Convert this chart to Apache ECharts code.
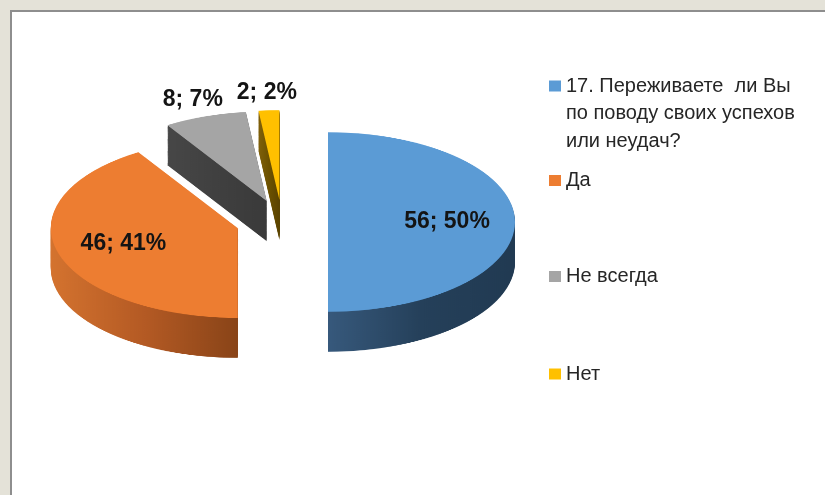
<!DOCTYPE html>
<html>
<head>
<meta charset="utf-8">
<script src="https://cdn.jsdelivr.net/npm/echarts@6/dist/echarts.min.js"></script>
<style>
  html, body { margin: 0; padding: 0; width: 825px; height: 495px; overflow: hidden; background: #e4e2d8; }
  #sheet { position: absolute; left: 10px; top: 10px; width: 815px; height: 485px; background: #ffffff;
           border-top: 2px solid #8e8e8e; border-left: 2px solid #8e8e8e; }
  #solid { position: absolute; left: 0; top: 0; width: 825px; transform-origin: 0 0; }
  #front { position: absolute; left: 0; top: 0; width: 825px; height: 495px; }
</style>
</head>
<body>
<div id="sheet"></div>
<div id="solid"></div>
<div id="front"></div>
<script>
// Survey answers
const categories = ['17. Переживаете  ли Вы\nпо поводу своих успехов\nили неудач?', 'Да', 'Не всегда', 'Нет'];
const counts = [56, 46, 8, 2];

// Slice colours: top face and the darker extruded side (left -> right shade)
const topColors = ['#5b9bd5', '#ed7d31', '#a5a5a5', '#ffc000'];
const sideColors = [
  ['#37597c', '#25405a', '#213a52'],
  ['#d4732f', '#b45a24', '#894418'],
  ['#474747', '#404040', '#3a3a3a'],
  ['#80600a', '#6c5100', '#5a4300']
];

// Geometry of the tilted pie (screen pixels)
const CX = 282, CY = 222, R = 187, TILT = 0.48, DEPTH = 40, EXPLODE = 46;
const FONT = "'Liberation Sans', Arial, sans-serif";

const total = counts.reduce((a, b) => a + b, 0);

// ---- solid pie: drawn flat, then squashed vertically by CSS to look tilted ----
const solidEl = document.getElementById('solid');
solidEl.style.height = (495 / TILT) + 'px';
solidEl.style.transform = 'scaleY(' + TILT + ')';

function gradient(stops) {
  return new echarts.graphic.LinearGradient(0, 0, 1, 0,
    stops.map((c, k) => ({ offset: k / (stops.length - 1), color: c })));
}

function pieLayer(screenY, colorOf) {
  return {
    type: 'pie',
    center: [CX, screenY / TILT],
    radius: R,
    startAngle: 90,
    clockwise: true,
    selectedMode: 'multiple',
    selectedOffset: EXPLODE,
    silent: true,
    animation: false,
    label: { show: false },
    labelLine: { show: false },
    emphasis: { disabled: true },
    select: { itemStyle: { borderWidth: 0 } },
    itemStyle: { borderWidth: 0 },
    data: categories.map((name, i) => ({
      name: name,
      value: counts[i],
      selected: true,
      itemStyle: { color: colorOf(i) }
    }))
  };
}

const solidSeries = [];
// extrusion: the slice shape swept downward one pixel at a time
for (let j = DEPTH; j >= 1; j--) {
  solidSeries.push(pieLayer(CY + j, i => gradient(sideColors[i])));
}
// top faces
solidSeries.push(pieLayer(CY, i => topColors[i]));

const solidChart = echarts.init(solidEl, null, { renderer: 'canvas' });
solidChart.setOption({
  backgroundColor: 'transparent',
  animation: false,
  legend: { show: false },
  series: solidSeries
});

// ---- front layer: value labels and legend ----
const LABEL_R = 200, LABEL_PUSH = 62;
const LINE_H = 27.5;
const legendIconCenters = [86, 180.5, 276.5, 374];

const frontChart = echarts.init(document.getElementById('front'), null, { renderer: 'canvas' });

const legends = categories.map((name, i) => {
  const lines = name.split('\n').length;
  const boxH = lines * LINE_H;
  // square marker placed beside the first text line of the entry
  const markTop = LINE_H / 2 - 5.5;
  const icon = 'path://M0,' + markTop + 'H12V' + (markTop + 11) + 'H0Z M0,0 M12,' + boxH;
  return {
    data: [{ name: name, itemStyle: { color: topColors[i], opacity: 1 } }],
    left: 549,
    top: legendIconCenters[i] - LINE_H / 2,
    orient: 'vertical',
    padding: 0,
    itemGap: 0,
    itemWidth: 12,
    itemHeight: boxH,
    icon: icon,
    selectedMode: false,
    textStyle: {
      fontFamily: FONT,
      fontSize: 20,
      color: '#262626',
      lineHeight: LINE_H
    }
  };
});

frontChart.setOption({
  backgroundColor: 'transparent',
  animation: false,
  legend: legends,
  series: [{
    type: 'pie',
    center: [CX, CY],
    radius: LABEL_R,
    startAngle: 90,
    clockwise: true,
    silent: true,
    avoidLabelOverlap: false,
    percentPrecision: 0,
    itemStyle: { borderWidth: 0 },
    emphasis: { disabled: true },
    label: {
      show: true,
      formatter: '{c}; {d}%',
      fontFamily: FONT,
      fontSize: 23,
      fontWeight: 'bold',
      color: '#141414',
      distanceToLabelLine: 0
    },
    labelLine: { show: false, length: 8, length2: 0 },
    // move each label out with its exploded slice and onto the tilted ellipse
    labelLayout: function (p) {
      const r = p.labelRect;
      let ax = r.x + r.width / 2;
      if (p.align === 'right') ax = r.x + r.width;
      else if (p.align === 'left') ax = r.x;
      const ay = r.y + r.height / 2;
      const vx = ax - CX, vy = ay - CY;
      const len = Math.sqrt(vx * vx + vy * vy) || 1;
      const k = (len + LABEL_PUSH) / len;
      return {
        x: CX + vx * k,
        y: CY + vy * k * TILT,
        align: 'center',
        verticalAlign: 'middle'
      };
    },
    data: categories.map((name, i) => ({
      name: name,
      value: counts[i],
      itemStyle: { color: 'rgba(0,0,0,0)' },
      label: { position: counts[i] / total > 0.2 ? 'inside' : 'outside' }
    }))
  }]
});
</script>
</body>
</html>
